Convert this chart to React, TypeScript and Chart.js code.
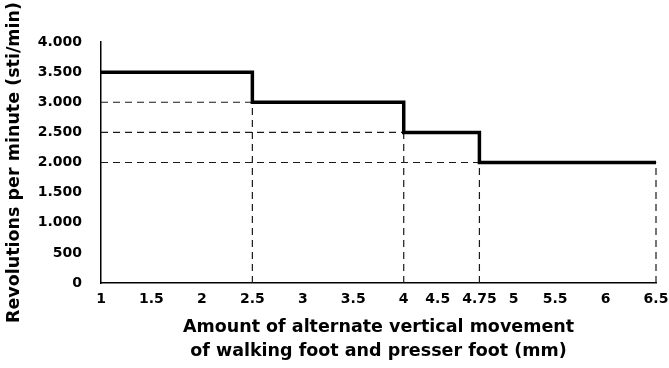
import React, { useEffect, useRef } from "react";
import { Chart, registerables } from "chart.js";

Chart.register(...registerables);

// Step line data: x (mm) and revolutions per minute
const stepX = [1, 2.5, 4, 4.75, 6.5];
const stepY = [3500, 3000, 2500, 2000, 2000];

// Axis ticks
const xTicks = [1, 1.5, 2, 2.5, 3, 3.5, 4, 4.5, 4.75, 5, 5.5, 6, 6.5];
const yMin = 0;
const yMax = 4000;
const yStep = 500;

const xTitle = ["Amount of alternate vertical movement", "of walking foot and presser foot (mm)"];
const yTitle = "Revolutions per minute (sti/min)";

const FONT = '"DejaVu Sans", sans-serif';

function fmtThousands(v: number): string {
  return String(v).replace(/\B(?=(\d{3})+(?!\d))/g, ".");
}

const xLabelPlugin = {
  id: "xLabels",
  afterDraw(chart: any) {
    const xs = chart.scales.x;
    const ctx = chart.ctx;
    ctx.save();
    ctx.font = `bold 14px ${FONT}`;
    ctx.fillStyle = "#000";
    ctx.textAlign = "center";
    ctx.textBaseline = "middle";
    const items = xTicks.map((v) => {
      const label = String(v);
      return {
        label,
        x: xs.getPixelForValue(v),
        w: ctx.measureText(label).width,
        anchored: stepX.includes(v) || v === xTicks[0],
      };
    });
    const gap = 12;
    for (let iter = 0; iter < 60; iter++) {
      let moved = false;
      for (let i = 0; i < items.length - 1; i++) {
        const a = items[i];
        const b = items[i + 1];
        const overlap = a.x + a.w / 2 + gap - (b.x - b.w / 2);
        if (overlap > 0.01) {
          moved = true;
          if (a.anchored && !b.anchored) b.x += overlap;
          else if (!a.anchored && b.anchored) a.x -= overlap;
          else {
            a.x -= overlap / 2;
            b.x += overlap / 2;
          }
        }
      }
      if (!moved) break;
    }
    const y = chart.chartArea.bottom + 16;
    items.forEach((it) => ctx.fillText(it.label, it.x, y));
    ctx.restore();
  },
};

export default function App() {
  const ref = useRef<HTMLCanvasElement | null>(null);

  useEffect(() => {
    if (!ref.current) return;
    const n = stepX.length;
    const dash = [7, 5];
    const guides: any[] = [];
    // horizontal guides from y-axis to each drop point
    for (let i = 1; i < n - 1; i++) {
      guides.push({
        data: [
          { x: stepX[0], y: stepY[i] },
          { x: stepX[i], y: stepY[i] },
        ],
      });
    }
    // vertical guides from x-axis to each step point
    for (let i = 1; i < n; i++) {
      guides.push({
        data: [
          { x: stepX[i], y: yMin },
          { x: stepX[i], y: stepY[i] },
        ],
      });
    }

    const datasets: any[] = [
      {
        label: "rpm",
        data: stepX.map((x, i) => ({ x, y: stepY[i] })),
        stepped: "before",
        borderColor: "#000",
        borderWidth: 3.5,
        borderJoinStyle: "miter",
        borderCapStyle: "butt",
        pointRadius: 0,
        fill: false,
        clip: false,
      },
      ...guides.map((g) => ({
        label: "guide",
        data: g.data,
        borderColor: "#1a1a1a",
        borderWidth: 1.2,
        borderDash: dash,
        pointRadius: 0,
        fill: false,
        clip: false,
      })),
    ];

    const chart = new Chart(ref.current, {
      type: "line",
      data: { datasets },
      options: {
        animation: false,
        responsive: false,
        layout: { padding: { top: 42, right: 13, bottom: 0, left: 0 } },
        plugins: {
          legend: { display: false },
          tooltip: { enabled: false },
        },
        scales: {
          x: {
            type: "linear",
            min: stepX[0],
            max: stepX[n - 1],
            grid: { display: false, drawTicks: false },
            border: { display: true, color: "#000", width: 1.5 },
            ticks: { display: false },
            afterFit: (s: any) => {
              s.height = 85;
            },
            title: {
              display: true,
              text: xTitle,
              color: "#000",
              font: { family: FONT, size: 17.5, weight: "bold", lineHeight: 1.34 },
              padding: { top: 0, bottom: 5 },
            },
          },
          y: {
            type: "linear",
            min: yMin,
            max: yMax,
            grid: { display: false, drawTicks: false },
            border: { display: true, color: "#000", width: 1.5 },
            ticks: {
              stepSize: yStep,
              padding: 19,
              color: "#000",
              font: { family: FONT, size: 14, weight: "bold" },
              callback: (v: any) => fmtThousands(Number(v)),
            },
            afterFit: (s: any) => {
              s.width = 101;
            },
            title: {
              display: true,
              text: yTitle,
              color: "#000",
              font: { family: FONT, size: 17.5, weight: "bold", lineHeight: 1.2 },
              padding: { top: 4, bottom: 0 },
            },
          },
        },
      },
      plugins: [xLabelPlugin],
    } as any);

    return () => chart.destroy();
  }, []);

  return (
    <div style={{ position: "absolute", left: 0, top: 0, width: 669, height: 368, background: "#fff" }}>
      <canvas ref={ref} width={669} height={368} style={{ display: "block" }} />
    </div>
  );
}
